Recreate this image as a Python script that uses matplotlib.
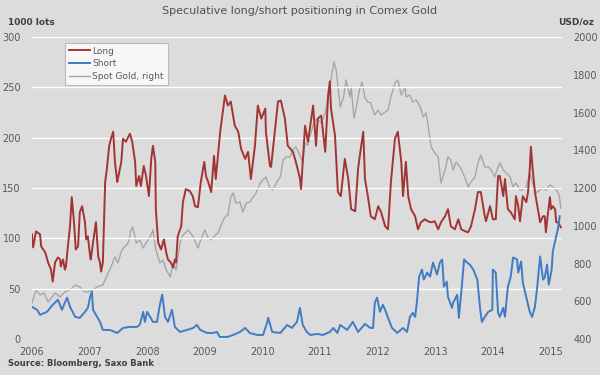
import matplotlib
matplotlib.use("Agg")
import matplotlib.pyplot as plt

# weekly-ish positions (decimal year on the category axis)
long_t = [2006.00, 2006.02, 2006.07, 2006.14, 2006.16, 2006.23, 2006.28, 2006.33, 2006.36, 2006.40,
          2006.45, 2006.49, 2006.50, 2006.54, 2006.57, 2006.59, 2006.63, 2006.66, 2006.69, 2006.73,
          2006.76, 2006.80, 2006.83, 2006.87, 2006.92, 2006.94, 2006.97, 2007.01, 2007.02, 2007.06,
          2007.11, 2007.15, 2007.18, 2007.20, 2007.23, 2007.27, 2007.30, 2007.34, 2007.37, 2007.41,
          2007.44, 2007.48, 2007.49, 2007.55, 2007.58, 2007.63, 2007.70, 2007.74, 2007.79, 2007.81,
          2007.86, 2007.89, 2007.94, 2007.98, 2008.03, 2008.07, 2008.10, 2008.14, 2008.15, 2008.19,
          2008.24, 2008.29, 2008.33, 2008.36, 2008.41, 2008.45, 2008.48, 2008.50, 2008.53, 2008.59,
          2008.62, 2008.67, 2008.74, 2008.79, 2008.83, 2008.88, 2008.93, 2008.99, 2009.02, 2009.06,
          2009.11, 2009.16, 2009.19, 2009.26, 2009.28, 2009.35, 2009.40, 2009.45, 2009.52, 2009.58,
          2009.63, 2009.70, 2009.75, 2009.80, 2009.87, 2009.92, 2009.98, 2010.05, 2010.06, 2010.13,
          2010.15, 2010.22, 2010.27, 2010.32, 2010.39, 2010.44, 2010.53, 2010.58, 2010.65, 2010.67,
          2010.74, 2010.79, 2010.88, 2010.93, 2010.96, 2011.02, 2011.09, 2011.14, 2011.17, 2011.19,
          2011.26, 2011.31, 2011.36, 2011.43, 2011.49, 2011.54, 2011.61, 2011.66, 2011.69, 2011.75,
          2011.78, 2011.83, 2011.88, 2011.95, 2012.01, 2012.06, 2012.13, 2012.18, 2012.23, 2012.30,
          2012.35, 2012.41, 2012.44, 2012.49, 2012.53, 2012.58, 2012.65, 2012.70, 2012.75, 2012.82,
          2012.87, 2012.93, 2012.99, 2013.05, 2013.10, 2013.17, 2013.22, 2013.27, 2013.34, 2013.40,
          2013.45, 2013.52, 2013.57, 2013.62, 2013.69, 2013.74, 2013.79, 2013.86, 2013.88, 2013.95,
          2014.00, 2014.05, 2014.09, 2014.12, 2014.18, 2014.21, 2014.26, 2014.31, 2014.38, 2014.40,
          2014.44, 2014.47, 2014.52, 2014.58, 2014.61, 2014.64, 2014.66, 2014.69, 2014.73, 2014.78,
          2014.82, 2014.87, 2014.90, 2014.92, 2014.95, 2014.99, 2015.01, 2015.04, 2015.08, 2015.10,
          2015.13, 2015.18]
long_pos = [104, 91, 107, 104, 92, 86, 76, 69, 57, 76,
            81, 79, 72, 79, 69, 72, 96, 112, 141, 116,
            89, 92, 126, 132, 116, 99, 102, 82, 79, 96,
            116, 82, 76, 67, 76, 156, 169, 192, 199, 206,
            176, 156, 159, 176, 199, 196, 204, 196, 176, 152,
            162, 152, 172, 162, 142, 179, 192, 176, 129, 96,
            89, 99, 86, 79, 76, 71, 79, 76, 102, 112,
            136, 149, 147, 142, 132, 131, 156, 176, 162, 156,
            146, 182, 159, 202, 212, 242, 232, 236, 212, 206,
            189, 179, 186, 159, 192, 232, 219, 229, 206, 172,
            171, 209, 236, 237, 219, 192, 186, 176, 160, 149,
            212, 196, 232, 192, 219, 222, 186, 242, 256, 229,
            202, 146, 142, 179, 159, 129, 127, 169, 182, 206,
            159, 142, 122, 119, 132, 126, 112, 109, 156, 199,
            206, 176, 142, 176, 142, 129, 122, 109, 116, 119,
            117, 116, 117, 109, 116, 122, 129, 112, 109, 119,
            109, 107, 106, 112, 129, 146, 146, 122, 117, 132,
            119, 119, 162, 162, 142, 159, 129, 126, 119, 142,
            132, 117, 142, 136, 146, 169, 191, 169, 146, 129,
            116, 122, 122, 106, 122, 141, 129, 132, 129, 116,
            116, 111]

short_t = [2006.00, 2006.09, 2006.14, 2006.26, 2006.36, 2006.45, 2006.52, 2006.57, 2006.61, 2006.66,
           2006.75, 2006.83, 2006.92, 2006.97, 2007.01, 2007.04, 2007.06, 2007.13, 2007.18, 2007.23,
           2007.35, 2007.48, 2007.58, 2007.70, 2007.82, 2007.87, 2007.93, 2007.96, 2008.00, 2008.05,
           2008.10, 2008.17, 2008.22, 2008.26, 2008.31, 2008.36, 2008.43, 2008.48, 2008.57, 2008.69,
           2008.80, 2008.86, 2008.92, 2009.04, 2009.14, 2009.21, 2009.26, 2009.39, 2009.49, 2009.61,
           2009.70, 2009.78, 2009.91, 2010.01, 2010.08, 2010.10, 2010.17, 2010.31, 2010.43, 2010.51,
           2010.60, 2010.65, 2010.70, 2010.77, 2010.83, 2010.95, 2011.05, 2011.17, 2011.23, 2011.30,
           2011.35, 2011.47, 2011.57, 2011.66, 2011.78, 2011.87, 2011.92, 2011.95, 2011.99, 2012.04,
           2012.09, 2012.13, 2012.18, 2012.25, 2012.34, 2012.44, 2012.51, 2012.56, 2012.61, 2012.65,
           2012.68, 2012.72, 2012.77, 2012.80, 2012.86, 2012.91, 2012.96, 2013.03, 2013.08, 2013.12,
           2013.15, 2013.20, 2013.22, 2013.29, 2013.31, 2013.38, 2013.41, 2013.46, 2013.50, 2013.55,
           2013.60, 2013.66, 2013.73, 2013.78, 2013.81, 2013.86, 2013.92, 2013.99, 2014.00, 2014.05,
           2014.09, 2014.12, 2014.18, 2014.21, 2014.26, 2014.31, 2014.35, 2014.42, 2014.44, 2014.49,
           2014.52, 2014.59, 2014.64, 2014.68, 2014.73, 2014.77, 2014.82, 2014.87, 2014.90, 2014.94,
           2014.97, 2015.02, 2015.04, 2015.09, 2015.13, 2015.16]
short_pos = [32, 29, 24, 27, 34, 39, 29, 36, 41, 32,
             22, 21, 27, 31, 42, 47, 29, 22, 17, 9,
             9, 6, 11, 12, 12, 14, 27, 17, 27, 22,
             17, 17, 34, 44, 22, 17, 29, 12, 7, 9,
             11, 14, 9, 6, 6, 7, 2, 2, 4, 7,
             11, 6, 4, 4, 16, 21, 7, 6, 14, 11,
             17, 31, 14, 7, 4, 5, 4, 7, 11, 6,
             14, 9, 17, 7, 15, 11, 11, 36, 41, 27,
             34, 29, 21, 11, 6, 11, 7, 22, 26, 22,
             36, 62, 69, 59, 66, 62, 76, 64, 76, 79,
             52, 57, 42, 31, 36, 44, 21, 52, 79, 76,
             74, 69, 59, 29, 17, 22, 27, 29, 69, 66,
             26, 22, 31, 22, 52, 62, 81, 79, 66, 77,
             56, 39, 27, 22, 32, 52, 82, 59, 61, 74,
             54, 69, 87, 100, 110, 122]

gold_t = [2006.00, 2006.07, 2006.14, 2006.21, 2006.28, 2006.33, 2006.35, 2006.40, 2006.49, 2006.57,
          2006.66, 2006.75, 2006.83, 2006.92, 2006.97, 2007.06, 2007.13, 2007.23, 2007.32, 2007.35,
          2007.44, 2007.49, 2007.56, 2007.67, 2007.72, 2007.75, 2007.81, 2007.87, 2007.93, 2007.98,
          2008.05, 2008.10, 2008.15, 2008.22, 2008.27, 2008.33, 2008.40, 2008.45, 2008.50, 2008.57,
          2008.62, 2008.71, 2008.80, 2008.88, 2008.93, 2009.00, 2009.06, 2009.11, 2009.18, 2009.23,
          2009.28, 2009.35, 2009.40, 2009.45, 2009.49, 2009.54, 2009.61, 2009.66, 2009.72, 2009.78,
          2009.84, 2009.89, 2009.96, 2010.01, 2010.06, 2010.13, 2010.18, 2010.24, 2010.31, 2010.36,
          2010.41, 2010.48, 2010.53, 2010.58, 2010.65, 2010.70, 2010.74, 2010.79, 2010.84, 2010.91,
          2010.96, 2011.02, 2011.09, 2011.14, 2011.19, 2011.24, 2011.28, 2011.35, 2011.41, 2011.45,
          2011.52, 2011.54, 2011.59, 2011.63, 2011.69, 2011.73, 2011.78, 2011.83, 2011.88, 2011.95,
          2012.01, 2012.06, 2012.13, 2012.18, 2012.23, 2012.30, 2012.35, 2012.41, 2012.48, 2012.49,
          2012.56, 2012.61, 2012.67, 2012.74, 2012.79, 2012.84, 2012.87, 2012.91, 2012.93, 2012.99,
          2013.05, 2013.08, 2013.10, 2013.17, 2013.22, 2013.27, 2013.31, 2013.36, 2013.43, 2013.48,
          2013.53, 2013.57, 2013.62, 2013.69, 2013.74, 2013.79, 2013.86, 2013.92, 2013.97, 2014.03,
          2014.09, 2014.12, 2014.18, 2014.23, 2014.30, 2014.35, 2014.40, 2014.47, 2014.52, 2014.58,
          2014.64, 2014.69, 2014.75, 2014.82, 2014.87, 2014.92, 2014.99, 2015.04, 2015.10, 2015.15,
          2015.18]
gold_usd = [591, 660, 633, 644, 596, 617, 623, 644, 623, 649,
            660, 686, 676, 649, 649, 660, 676, 686, 750, 766,
            835, 803, 872, 909, 978, 994, 909, 925, 882, 909,
            941, 978, 872, 803, 819, 766, 729, 803, 766, 909,
            951, 978, 941, 882, 925, 978, 935, 925, 951, 962,
            1004, 1047, 1057, 1153, 1174, 1121, 1126, 1073, 1121, 1126,
            1153, 1174, 1227, 1243, 1259, 1200, 1190, 1227, 1259, 1349,
            1365, 1365, 1402, 1418, 1375, 1338, 1439, 1428, 1492, 1561,
            1561, 1545, 1598, 1683, 1773, 1868, 1826, 1630, 1683, 1773,
            1683, 1736, 1571, 1630, 1730, 1762, 1677, 1656, 1651, 1587,
            1614, 1587, 1603, 1614, 1683, 1757, 1773, 1693, 1736, 1683,
            1693, 1656, 1667, 1630, 1577, 1598, 1545, 1455, 1418, 1386,
            1365, 1280, 1227, 1296, 1365, 1349, 1296, 1338, 1312, 1280,
            1243, 1206, 1232, 1259, 1333, 1375, 1312, 1312, 1296, 1259,
            1312, 1333, 1296, 1280, 1259, 1206, 1227, 1190, 1190, 1206,
            1280, 1227, 1174, 1190, 1200, 1190, 1216, 1206, 1190, 1163,
            1094]

years = list(range(2006, 2016))

bg = "#dcdcdc"
txt = "#595959"

fig = plt.figure(figsize=(6, 3.75), dpi=100, facecolor=bg)
ax = fig.add_axes([0.0533, 0.096, 0.8834, 0.805])
ax2 = ax.twinx()
ax.set_zorder(ax2.get_zorder() + 1)
ax.patch.set_visible(False)
ax2.set_facecolor(bg)

g, = ax2.plot(gold_t, gold_usd, color="#a6a6a6", lw=1.0, label="Spot Gold, right")
l, = ax.plot(long_t, long_pos, color="#a33434", lw=1.4, label="Long")
s, = ax.plot(short_t, short_pos, color="#3f7cc4", lw=1.4, label="Short")

ax.set_xlim(2006, 2015.2)
ax.set_ylim(0, 300)
ax2.set_ylim(400, 2000)
ax.set_yticks(range(0, 301, 50))
ax2.set_yticks(range(400, 2001, 200))
ax.set_xticks(years)

ax2.yaxis.grid(False)
for y in range(0, 301, 50):
    ax.axhline(y, color="white", lw=1.0, zorder=0)

for a in (ax, ax2):
    for sp in a.spines.values():
        sp.set_visible(False)
    a.tick_params(length=0, labelsize=7, colors=txt)
ax.tick_params(axis="y", pad=8)
ax2.tick_params(axis="y", pad=8)
ax.tick_params(axis="x", pad=6)

fig.text(0.5, 0.972, "Speculative long/short positioning in Comex Gold",
         ha="center", va="center", fontsize=8, color="#505050")
fig.text(0.013, 0.941, "1000 lots", ha="left", va="center", fontsize=6.5,
         color="#404040", fontweight="bold")
fig.text(0.93, 0.941, "USD/oz", ha="left", va="center", fontsize=6.5,
         color="#404040", fontweight="bold")
fig.text(0.013, 0.03, "Source: Bloomberg, Saxo Bank", ha="left", va="center",
         fontsize=6, color="#404040", fontweight="bold")

leg = ax.legend(handles=[l, s, g], loc="upper left", bbox_to_anchor=(0.062, 0.982),
                borderaxespad=0, fontsize=6.5, frameon=True, fancybox=False,
                handlelength=2.3, handletextpad=0.3, borderpad=0.45, labelspacing=0.4)
leg.get_frame().set_facecolor("white")
leg.get_frame().set_edgecolor("#b0b0b0")
leg.get_frame().set_linewidth(0.8)
for t in leg.get_texts():
    t.set_color(txt)

fig.savefig("out.png", dpi=100, facecolor=bg)
